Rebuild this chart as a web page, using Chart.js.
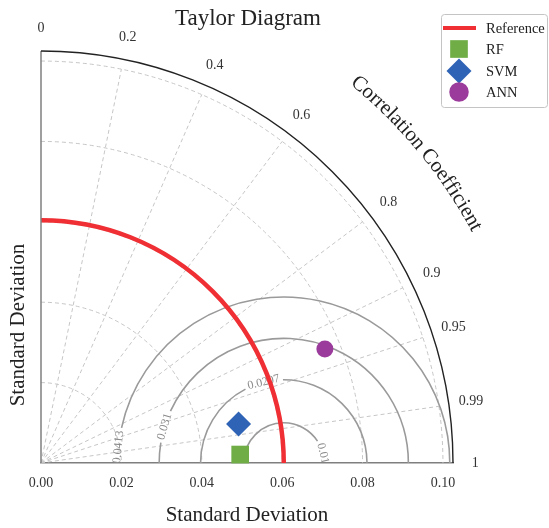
<!DOCTYPE html>
<html>
<head>
<meta charset="utf-8">
<script src="https://cdn.jsdelivr.net/npm/chart.js@4.4.1/dist/chart.umd.min.js"></script>
<style>
  html, body { margin: 0; padding: 0; background: #fff; }
  #wrap { width: 549px; height: 528px; }
</style>
</head>
<body>
<div id="wrap"><canvas id="c" width="549" height="528"></canvas></div>
<script>
// Model statistics (standard deviation and correlation with the reference)
const models = ['RF', 'SVM', 'ANN'];
const stdDev = [0.0496, 0.0501, 0.0761];
const corrCoef = [0.9991, 0.981, 0.928];

// Reference standard deviation and centred RMS difference contours
const refStd = 0.0604;
const rmsLevels = [0.01, 0.0207, 0.031, 0.0413];
const rmsLabels = ['0.01', '0.0207', '0.031', '0.0413'];

// Axis ticks
const corrTicks = [0, 0.2, 0.4, 0.6, 0.8, 0.9, 0.95, 0.99, 1];
const corrTickLabels = ['0', '0.2', '0.4', '0.6', '0.8', '0.9', '0.95', '0.99', '1'];
const stdTicks = [0, 0.02, 0.04, 0.06, 0.08, 0.10];
const stdTickLabels = ['0.00', '0.02', '0.04', '0.06', '0.08', '0.10'];
const stdMax = 0.1025;

// Styling
const SERIF = '"Liberation Serif", "DejaVu Serif", serif';
const markerColors = ['#70ad47', '#2f63b5', '#9b3b9c'];
const markerStyles = ['rect', 'rectRot', 'circle'];
const markerRadius = [12.5, 12.5, 8.5];
const refColor = '#ef2f33';
const rmsLabelAngles = [13.7, 104, 163, 174.5]; // position of each contour label, degrees around the reference point

function polarToXY(std, corr) {
  const th = Math.acos(corr);
  return { x: std * Math.cos(th), y: std * Math.sin(th) };
}

const taylorPlugin = {
  id: 'taylor',
  beforeDatasetsDraw(chart) {
    const ctx = chart.ctx;
    const xs = chart.scales.x, ys = chart.scales.y;
    const ox = xs.getPixelForValue(0), oy = ys.getPixelForValue(0);
    const kx = (xs.getPixelForValue(stdMax) - ox) / stdMax;
    const ky = (oy - ys.getPixelForValue(stdMax)) / stdMax;
    const P = (r, th) => [ox + r * Math.cos(th) * kx, oy - r * Math.sin(th) * ky];
    const arc = (cx, cy, r, a1, a2) => {
      ctx.beginPath();
      ctx.ellipse(cx, cy, r * kx, r * ky, 0, -a2, -a1);
      ctx.stroke();
    };

    ctx.save();
    // dashed grid: std arcs and correlation rays
    ctx.setLineDash([4, 3]);
    ctx.strokeStyle = '#c6c6c6';
    ctx.lineWidth = 1;
    stdTicks.forEach(r => { if (r > 0) arc(ox, oy, r, 0, Math.PI / 2); });
    corrTicks.forEach(c => {
      if (c <= 0 || c >= 1) return;
      const [x, y] = P(stdTicks[stdTicks.length - 1], Math.acos(c));
      ctx.beginPath(); ctx.moveTo(ox, oy); ctx.lineTo(x, y); ctx.stroke();
    });
    ctx.setLineDash([]);

    // centred RMS difference contours, broken where labelled
    const cx = ox + refStd * kx;
    ctx.save();
    ctx.beginPath();
    ctx.moveTo(ox, oy);
    ctx.ellipse(ox, oy, stdMax * kx, stdMax * ky, 0, -Math.PI / 2, 0);
    ctx.closePath();
    ctx.clip();
    ctx.font = '12px ' + SERIF;
    rmsLevels.forEach((r, i) => {
      const a = rmsLabelAngles[i] * Math.PI / 180;
      const tw = ctx.measureText(rmsLabels[i]).width;
      const g = (tw / 2 + 3) / (r * kx);
      ctx.strokeStyle = '#9a9a9a';
      ctx.lineWidth = 1.6;
      if (a - g > 0) arc(cx, oy, r, 0, a - g);
      if (a + g < Math.PI) arc(cx, oy, r, a + g, Math.PI);
      // label along the tangent, kept upright
      const lx = cx + r * Math.cos(a) * kx, ly = oy - r * Math.sin(a) * ky;
      let t = rmsLabelAngles[i] + 90;
      if (t > 90) t -= 180;
      ctx.save();
      ctx.translate(lx, ly);
      ctx.rotate(-t * Math.PI / 180);
      ctx.fillStyle = '#8a8a8a';
      ctx.textAlign = 'center';
      ctx.textBaseline = 'middle';
      ctx.fillText(rmsLabels[i], 0, 0);
      ctx.restore();
    });
    ctx.restore();

    // reference standard deviation arc
    ctx.strokeStyle = refColor;
    ctx.lineWidth = 4.5;
    arc(ox, oy, refStd, 0, Math.PI / 2);

    // frame: left axis and outer boundary
    ctx.strokeStyle = '#7f7f7f';
    ctx.lineWidth = 1.5;
    ctx.beginPath(); ctx.moveTo(ox, oy); ctx.lineTo(ox, oy - stdMax * ky); ctx.stroke();
    ctx.strokeStyle = '#222';
    ctx.lineWidth = 1.4;
    arc(ox, oy, stdMax, 0, Math.PI / 2);

    // correlation tick labels
    ctx.font = '14px ' + SERIF;
    ctx.fillStyle = '#333';
    ctx.textAlign = 'center';
    ctx.textBaseline = 'middle';
    corrTicks.forEach((c, i) => {
      const [x, y] = P(stdMax * 1.054, Math.acos(c));
      ctx.fillText(corrTickLabels[i], x, y);
    });

    // curved axis title
    const label = 'Correlation Coefficient';
    ctx.font = '21px ' + SERIF;
    ctx.fillStyle = '#222';
    const rT = stdMax * 1.2 * kx;
    const W = ctx.measureText(label).width;
    const mid = 39.5 * Math.PI / 180;
    let s = 0;
    for (const ch of label) {
      const w = ctx.measureText(ch).width;
      const th = mid + (W / 2 - (s + w / 2)) / rT;
      const x = ox + rT * Math.cos(th), y = oy - rT * Math.sin(th);
      ctx.save();
      ctx.translate(x, y);
      ctx.rotate(Math.PI / 2 - th);
      ctx.fillText(ch, 0, 0);
      ctx.restore();
      s += w;
    }
    ctx.restore();
  },
  afterDraw(chart) {
    const ctx = chart.ctx;
    ctx.save();
    // chart title
    ctx.font = '23px ' + SERIF;
    ctx.fillStyle = '#222';
    ctx.textAlign = 'center';
    ctx.textBaseline = 'middle';
    ctx.fillText('Taylor Diagram', 248, 19);

    // vertical axis title
    ctx.save();
    ctx.translate(18, 325);
    ctx.rotate(-Math.PI / 2);
    ctx.font = '21px ' + SERIF;
    ctx.fillText('Standard Deviation', 0, 0);
    ctx.restore();

    // legend
    const bx = 441, by = 14, bw = 106, bh = 93;
    ctx.fillStyle = '#fff';
    ctx.strokeStyle = '#c4c4c4';
    ctx.lineWidth = 1;
    ctx.beginPath();
    ctx.roundRect(bx + 0.5, by + 0.5, bw, bh, 3);
    ctx.fill(); ctx.stroke();
    ctx.font = '14.5px ' + SERIF;
    ctx.textAlign = 'left';
    ctx.fillStyle = '#222';
    const rowY = [28, 49, 71, 92];
    ctx.strokeStyle = refColor;
    ctx.lineWidth = 4;
    ctx.beginPath(); ctx.moveTo(443, rowY[0]); ctx.lineTo(476, rowY[0]); ctx.stroke();
    ctx.fillText('Reference', 486, rowY[0] + 1);
    models.forEach((m, i) => {
      ctx.fillStyle = markerColors[i];
      Chart.helpers.drawPoint(ctx, { pointStyle: markerStyles[i], radius: markerRadius[i] * (i === 2 ? 1.15 : 1), rotation: 0, borderWidth: 0 }, 459, rowY[i + 1]);
      ctx.fillStyle = '#222';
      ctx.fillText(m, 486, rowY[i + 1] + 1);
    });
    ctx.restore();
  }
};

const datasets = models.map((m, i) => ({
  label: m,
  data: [polarToXY(stdDev[i], corrCoef[i])],
  pointStyle: markerStyles[i],
  pointRadius: markerRadius[i],
  pointHoverRadius: markerRadius[i],
  backgroundColor: markerColors[i],
  borderWidth: 0,
  clip: false
}));

new Chart(document.getElementById('c'), {
  type: 'scatter',
  data: { datasets },
  options: {
    responsive: false,
    animation: false,
    events: [],
    layout: { padding: { left: 41, top: 51, right: 96, bottom: 0 } },
    plugins: { legend: { display: false }, tooltip: { enabled: false } },
    scales: {
      x: {
        type: 'linear',
        min: 0,
        max: stdMax,
        afterBuildTicks: s => { s.ticks = stdTicks.map(v => ({ value: v })); },
        afterFit: s => { s.height = 65; },
        ticks: {
          autoSkip: false,
          maxRotation: 0,
          padding: 12,
          color: '#333',
          font: { family: SERIF, size: 14 },
          callback: v => stdTickLabels[stdTicks.indexOf(v)] ?? ''
        },
        grid: { display: false, drawTicks: false, tickLength: 0 },
        border: { display: true, color: '#7f7f7f', width: 1.5 },
        title: {
          display: true,
          text: 'Standard Deviation',
          color: '#222',
          font: { family: SERIF, size: 21 },
          padding: { top: 0, bottom: 0 }
        }
      },
      y: {
        type: 'linear',
        min: 0,
        max: stdMax,
        display: false
      }
    }
  },
  plugins: [taylorPlugin]
});
</script>
</body>
</html>
